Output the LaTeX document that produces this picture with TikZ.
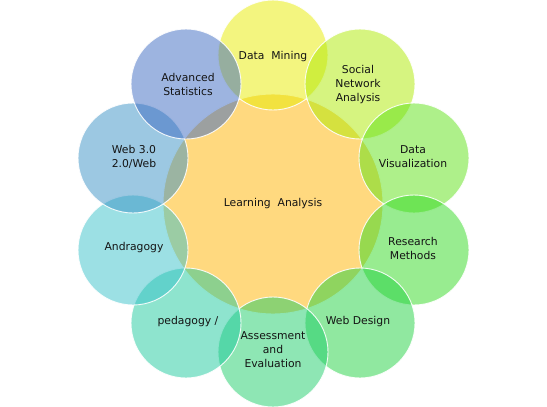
\documentclass[tikz,border=0pt]{standalone}
\usepackage{fontspec}
\setmainfont{DejaVu Sans}
\definecolor{ccen}{RGB}{255,217,127}
\definecolor{cdm}{RGB}{231,235,0}
\definecolor{csn}{RGB}{173,233,1}
\definecolor{cdv}{RGB}{93,225,21}
\definecolor{crm}{RGB}{49,217,33}
\definecolor{cwd}{RGB}{33,209,65}
\definecolor{cae}{RGB}{29,205,105}
\definecolor{cped}{RGB}{29,201,157}
\definecolor{cand}{RGB}{57,193,201}
\definecolor{cweb}{RGB}{57,145,197}
\definecolor{cas}{RGB}{59,105,193}
\definecolor{txt}{RGB}{20,20,20}
\tikzset{
  bub/.style={circle, minimum size=110pt, inner sep=0pt, draw=white, line width=0.9pt, fill opacity=0.5, draw opacity=0.9, text opacity=1, align=center, text=txt},
  lbl/.style={align=center, text=txt, inner sep=0pt},
}
\begin{document}
\begin{tikzpicture}[x=1pt,y=-1pt, font=\fontsize{10.8}{14}\selectfont]
\useasboundingbox (0,0) rectangle (547,407);
\node[circle, minimum size=220pt, inner sep=0pt, fill=ccen, draw=white, line width=0.9pt] (cen) at (273,204) {};
\node[bub, fill=cdm] (dm) at (273,55) {};
\node[bub, fill=csn] (sn) at (360,84) {};
\node[bub, fill=cdv] (dv) at (414,158) {};
\node[bub, fill=crm] (rm) at (414,250) {};
\node[bub, fill=cwd] (wd) at (360,323) {};
\node[bub, fill=cae] (ae) at (273,352) {};
\node[bub, fill=cped] (ped) at (186,323) {};
\node[bub, fill=cand] (and) at (133,250) {};
\node[bub, fill=cweb] (web) at (133,158) {};
\node[bub, fill=cas] (as) at (186,84) {};
\node[lbl] (tcen) at (cen) {Learning~ Analysis};
\node[lbl] (tdm) at (273,57) {Data~ Mining};
\node[lbl] (tsn) at (358,85) {Social\\Network\\Analysis};
\node[lbl] (tdv) at (413,157) {Data\\Visualization};
\node[lbl] (trm) at (413,248) {Research\\Methods};
\node[lbl] (twd) at (358,322) {Web Design};
\node[lbl] (tae) at (273,350) {Assessment\\and\\Evaluation};
\node[lbl] (tped) at (188,322) {pedagogy /};
\node[lbl] (tand) at (134,248) {Andragogy};
\node[lbl] (tweb) at (134,157) {Web 3.0\\2.0/Web};
\node[lbl] (tas) at (188,84) {Advanced\\Statistics};
\end{tikzpicture}
\end{document}
